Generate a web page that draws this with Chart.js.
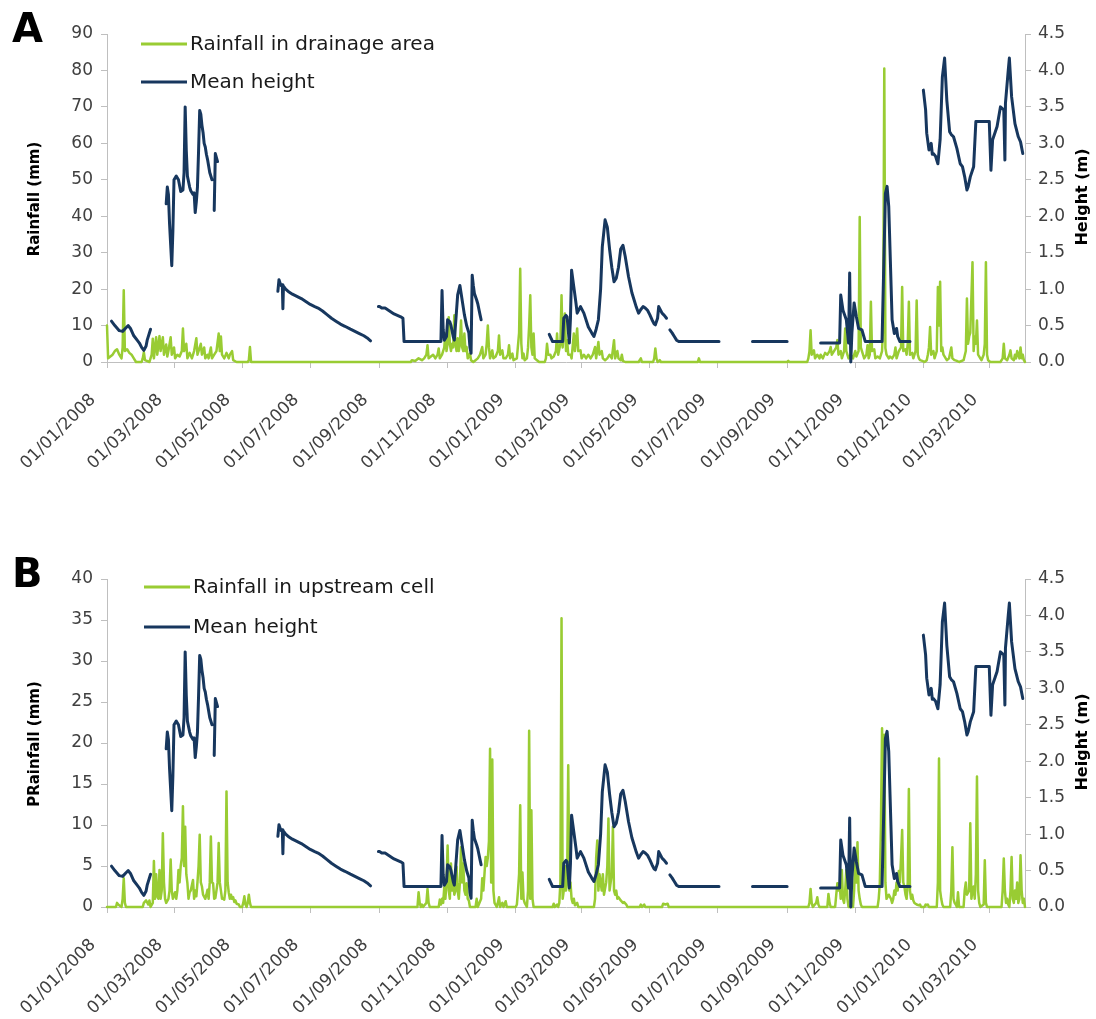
<!DOCTYPE html>
<html>
<head>
<meta charset="utf-8">
<script src="https://cdn.jsdelivr.net/npm/chart.js@4/dist/chart.umd.min.js"></script>
<style>
  html, body { margin: 0; padding: 0; background: #fff; }
  .panel { position: absolute; left: 0; width: 1096px; }
  #panelA { top: 0; height: 545px; }
  #panelB { top: 545px; height: 474px; }
</style>
</head>
<body>
<div class="panel" id="panelA"><canvas id="chartA" width="1096" height="545"></canvas></div>
<div class="panel" id="panelB"><canvas id="chartB" width="1096" height="474"></canvas></div>
<script>
// Days are counted from 01/01/2008 (day 0).
const tickDays = [0, 60, 121, 182, 244, 305, 366, 425, 486, 547, 609, 670, 731, 790];
const tickLabels = ['01/01/2008', '01/03/2008', '01/05/2008', '01/07/2008', '01/09/2008', '01/11/2008',
  '01/01/2009', '01/03/2009', '01/05/2009', '01/07/2009', '01/09/2009', '01/11/2009', '01/01/2010', '01/03/2010'];
const lastDay = 822;

// Daily rainfall averaged over the drainage area (mm): [day, mm]
const rainfallDrainage = [
  [0,10],[1,1],[3,1.5],[5,2],[7,3],[9,3.5],[11,2],[13,1],[14,4],[15,19.7],[16,3],[18,3.5],[20,2.5],[22,2],[24,1],[26,0],
  [31,0],[32,1],[33,2.7],[34,0.5],[38,0],[40,2],[41,6.4],[42,1],[44,6.8],[45,2],[47,7.1],[48,3],[50,6.8],[51,2],[53,4.8],
  [54,1.5],[55,3],[57,6.8],[58,2],[60,4],[61,1],[63,2],[65,1.5],[67,3],[68,9.2],[69,3],[71,5],[72,1],[74,2.5],[76,1],
  [78,3],[80,6.5],[81,2],[82,3],[84,5],[85,2],[87,4],[88,1],[90,2],[91,1],[93,4],[94,1],[96,2],[98,3],[100,7.8],[101,3],
  [102,7],[103,2],[105,1],[107,2.5],[109,1],[110,2],[112,3],[113,0.5],[116,0],[126,0],[127,0.5],[128,4.1],[129,0],
  [272,0],[273,0.5],[276,0.3],[279,1],[282,0.5],[284,1],[286,2],[287,4.6],[288,1],[290,1.5],[292,2],[294,1],[296,2],
  [297,3.7],[298,1],[300,2],[302,4],[303,7.8],[304,3],[305,5],[306,12.3],[307,5],[308,3],[309,5],[310,4],[311,12.8],
  [312,5],[313,3],[314,6.5],[315,3],[316,5],[317,11.4],[318,4],[319,3],[320,7.8],[321,3],[322,4.1],[323,1],[325,2.3],
  [326,0.5],[328,0],[330,0.5],[332,1],[334,2],[336,4.1],[337,1],[339,2],[340,5],[341,10],[342,4],[343,1],[345,3.2],
  [346,1],[348,1.5],[350,3],[351,7.3],[352,2],[354,3.2],[355,1],[357,1],[359,2],[360,4.6],[361,1],[363,2.3],[364,0.5],
  [367,1],[369,8],[370,25.6],[371,5],[372,1],[373,2.3],[374,0.5],[376,1],[377,4],[378,10],[379,18.3],[380,4],[381,2],
  [382,7.8],[383,1],[385,0.5],[387,0],[392,0],[393,1],[394,5],[395,2],[397,2],[398,1],[400,1.5],[402,3],[403,7.8],
  [404,2],[406,5],[407,18.3],[408,4],[410,13.3],[411,3],[412,6],[413,2],[415,2],[416,1],[418,7.8],[419,3],[421,9.2],
  [422,3],[424,3.2],[425,1],[427,2],[429,1],[431,2],[433,1],[435,2],[437,4.1],[438,1],[440,5.5],[441,2],[443,3],[444,1],
  [446,0.5],[448,1],[450,2],[452,1],[454,6],[455,1],[457,3],[458,1],[460,0.5],[461,2],[462,0.3],[464,0],[476,0],
  [477,0.5],[478,1],[479,0],[489,0],[490,1],[491,3.7],[492,1],[493,0],[495,0.5],[496,0],[529,0],[530,1],[531,0],
  [609,0],[610,0.3],[611,0],
  [627,0],[628,1],[629,3],[630,8.7],[631,2],[633,3.2],[634,1],[636,2],[638,1],[639,2],[641,1],[643,2.5],[645,2],[647,3],
  [648,4.1],[649,2],[651,3],[653,4],[654,6],[655,2],[657,3],[658,1],[660,3],[661,9.2],[662,3],[664,1],[666,2],[668,1],
  [670,3],[671,1.5],[673,3],[674,39.8],[675,4],[676,3],[678,1],[680,2],[681,4.6],[682,1],[683,2],[684,16.5],[685,3],
  [687,3.5],[688,1],[690,1.5],[692,1],[694,3],[695,10],[696,80.5],[697,3.8],[698,2],[700,1],[701,1.5],[703,1],[705,2],
  [706,4],[707,1],[709,3],[711,4],[712,20.6],[713,3],[715,3.5],[716,2],[717,5],[718,16.5],[719,2],[721,2.5],[722,1],
  [724,3],[725,16.9],[726,2],[727,1],[728,0.5],[730,0.3],[732,0],[734,0.5],[735,2],[736,4],[737,9.6],[738,2],[740,3],
  [741,1],[743,3],[744,20.6],[745,10],[746,22],[747,3],[748,4],[749,2],[751,1],[752,0.5],[754,1],[756,4],[757,1],
  [759,0.5],[761,0.3],[763,0],[767,0.5],[769,3],[770,17.4],[771,5],[772,7],[773,8],[775,27.4],[776,3],[777,7],[778,5],
  [779,11.4],[780,2],[782,1],[783,0.5],[785,2],[786,5],[787,27.4],[788,2],[789,0.5],[791,0],[800,0],[802,1],[803,5],
  [804,1],[806,0.5],[808,2],[809,3.2],[810,1],[812,0.5],[813,2],[814,1],[815,3],[817,1],[818,4],[819,1],[820,2],
  [821,0.5],[822,0]
];

// Daily rainfall in the upstream cell (mm): [day, mm]
const rainfallUpstream = [
  [0,0],[8,0],[9,0.5],[10,0.3],[13,0],[14,1],[15,3.5],[16,0.5],[17,0],[32,0],[33,0.5],[35,0.8],[37,0.3],[38,0.8],[39,0],
  [41,0.5],[42,5.6],[43,1],[44,4],[45,1.3],[46,1],[47,4.5],[48,1],[49,2],[50,9],[51,3],[52,1],[53,0.5],[55,1],[56,2],
  [57,5.8],[58,2],[59,1],[61,1.8],[62,1],[63,2],[64,4.5],[65,3],[66,5],[67,6],[68,12.3],[69,5],[70,9.8],[71,4],[72,2.9],
  [73,1],[74,1.8],[75,2],[77,3.3],[78,1],[79,2],[80,1.3],[81,3],[82,5],[83,8.8],[84,3],[85,2.5],[86,1.5],[88,1],[89,1.5],
  [90,2.1],[91,1],[92,3],[93,8.6],[94,3],[95,2.9],[96,1],[97,1.1],[98,2],[99,3],[100,7.8],[101,3],[102,2],[103,1],
  [104,1],[105,0.9],[106,2],[107,14.1],[108,3],[109,1.8],[110,1],[111,1.5],[112,1],[113,1.2],[114,0.6],[115,0.8],
  [116,0.4],[118,0.3],[119,0],[121,0],[122,0.5],[123,1.3],[124,0.3],[125,0],[126,0.5],[127,1.5],[128,0.5],[129,0],
  [278,0],[279,1.8],[280,0.5],[281,0],[282,0.3],[283,0],[286,0.5],[287,2.2],[288,0.5],[289,0],[297,0],[298,0.9],
  [299,0.3],[300,1],[301,0.5],[302,2.4],[303,1],[304,3],[305,7.5],[306,2],[307,1],[308,5.3],[309,2],[310,3.3],[311,1.5],
  [312,2],[313,4.9],[314,2],[315,1],[316,3],[317,7.3],[318,3],[319,5.3],[320,2],[321,1.5],[322,2.9],[323,1],[324,0.8],
  [325,0],[330,0],[331,1],[332,0],[335,1],[336,3.5],[337,2],[338,4],[339,6.1],[340,5],[341,6],[342,8],[343,19.3],
  [344,3],[345,18],[346,2],[347,0.5],[349,0],[350,0.5],[351,1.2],[352,0],[354,0.5],[355,0],[357,0.7],[358,0],[366,0],
  [367,0.3],[368,2],[369,4],[370,12.4],[371,1],[372,4.2],[373,1],[374,0.5],[376,0],[377,2],[378,21.5],[379,1],
  [380,11.8],[381,1],[382,0],[399,0],[400,0.4],[401,0],[403,0.3],[404,0],[405,0.5],[406,3],[407,35.2],[408,1],[409,2],
  [410,5],[411,2],[412,3],[413,17.3],[414,2],[415,3],[416,1],[417,0.5],[418,1],[419,0.2],[421,0.5],[422,0],[436,0],
  [437,1],[438,6],[439,8.1],[440,2],[441,4],[442,3],[443,2],[444,4],[445,1.5],[447,3],[448,5],[449,10.8],[450,2],[451,3],
  [452,4],[453,9.8],[454,2],[455,1.5],[456,2],[457,1],[458,1.2],[460,0.8],[462,0.5],[463,0.6],[465,0.3],[466,0],
  [477,0],[478,0.3],[479,0],[481,0.3],[482,0],[497,0],[498,0.4],[500,0.3],[502,0.4],[503,0],
  [628,0],[629,0.5],[630,2.2],[631,0.5],[632,0],[635,0.5],[636,1.2],[637,0.3],[638,0],[645,0],[646,1.6],[647,0.5],
  [648,0],[652,0],[653,1.5],[654,2.9],[655,2],[656,2.9],[657,1],[658,4.5],[659,1],[660,0.5],[661,2],[662,4.5],[663,1],
  [664,0],[668,0],[669,2],[670,6.1],[671,3],[672,7.9],[673,2],[674,1],[675,0.3],[676,0],[690,0],[691,1],[692,2.9],
  [693,10],[694,21.8],[695,8],[696,21],[697,3],[698,1],[700,1.5],[702,1],[703,0.5],[704,1],[705,2],[706,1.5],[707,3],
  [708,2],[709,4.4],[710,3],[711,6],[712,9.4],[713,3],[714,2.5],[715,1.5],[716,1],[717,3],[718,14.4],[719,2],[720,1],
  [721,1.5],[722,0.8],[723,0.5],[725,0.3],[727,0.2],[728,0.3],[729,0],[732,0],[733,0.3],[734,0.2],[735,0.3],[736,0],
  [743,0],[744,3],[745,18.1],[746,2],[747,1],[748,0.3],[749,0],[755,0],[756,2],[757,7.3],[758,1],[759,0.5],[760,0.3],
  [761,0],[762,1.8],[763,0],[767,0],[768,2],[769,3],[770,1.5],[772,2],[773,10.2],[774,1],[775,2],[776,2.5],[777,1],
  [778,4],[779,15.9],[780,2],[781,0.5],[782,0],[785,0.3],[786,5.7],[787,0.5],[788,0],[801,0],[802,2],[803,5.9],[804,2],
  [805,0.5],[806,1],[807,0.3],[808,0],[809,2],[810,6.1],[811,1],[812,0.5],[813,2],[814,1],[815,3],[816,0.5],[817,1],
  [818,6.3],[819,2],[820,0.5],[821,1],[822,0]
];

// Mean water height (m): [day, m]; null marks days without a record
const meanHeight = [
  [4,0.56],[7,0.5],[11,0.43],[14,0.42],[17,0.47],[19,0.5],[21,0.46],[24,0.36],[27,0.3],[29,0.26],[31,0.2],[33,0.16],
  [35,0.22],[36,0.3],[39,0.45],[46,null],
  [53,2.17],[54,2.4],[55,2.3],[56,1.9],[58,1.32],[59,1.8],[60,2.5],[62,2.55],[64,2.5],[66,2.34],[68,2.36],[69,2.6],
  [70,3.5],[71,2.9],[72,2.55],[74,2.4],[75,2.35],[77,2.3],[78,2.32],[79,2.05],[80,2.2],[81,2.4],[82,2.9],[83,3.45],
  [84,3.4],[85,3.25],[86,3.15],[87,3.0],[88,2.95],[89,2.85],[90,2.78],[92,2.6],[94,2.5],[95,null],
  [96,2.08],[97,2.86],[99,2.75],[120,null],
  [153,0.97],[154,1.13],[155,1.08],[156,1.05],[157,1.06],[157.5,0.73],[158,1.04],[160,1.0],[163,0.96],[166,0.93],
  [170,0.9],[174,0.87],[178,0.83],[182,0.79],[186,0.76],[189,0.74],[193,0.7],[197,0.65],[201,0.6],[205,0.56],[209,0.52],
  [213,0.49],[218,0.45],[222,0.42],[226,0.39],[230,0.36],[233,0.33],[236,0.29],[240,null],
  [243,0.76],[244,0.76],[246,0.74],[249,0.74],[252,0.71],[254,0.69],[257,0.66],[260,0.64],[263,0.62],[265,0.6],
  [266,0.28],[299,0.28],[300,0.98],[301,0.45],[302,0.3],[304,0.35],[305,0.58],[307,0.55],[308,0.5],[310,0.35],[311,0.3],
  [312,0.5],[314,0.92],[316,1.05],[317,0.95],[320,0.65],[322,0.5],[324,0.4],[325,0.2],[326,0.12],[327,1.19],[328,1.05],
  [329,0.94],[331,0.85],[332,0.8],[334,0.65],[335,0.58],[360,null],
  [396,0.38],[399,0.28],[408,0.28],[409,0.6],[411,0.64],[412,0.62],[414,0.26],[415,0.6],[416,1.26],[418,1.03],[420,0.8],
  [421,0.67],[424,0.76],[427,0.67],[431,0.48],[434,0.4],[436,0.35],[438,0.45],[440,0.58],[442,1.0],[443.5,1.58],
  [446,1.95],[448,1.85],[450,1.55],[452,1.3],[454,1.1],[456,1.15],[458,1.3],[460,1.55],[462,1.6],[464,1.45],[467,1.17],
  [470,0.95],[472,0.85],[474,0.75],[476,0.67],[478,0.72],[480,0.76],[482,0.74],[484,0.71],[486,0.65],[488,0.58],
  [490,0.52],[491,0.51],[493,0.6],[494,0.76],[496,0.7],[497,0.67],[499,0.64],[501,0.6],[502,null],
  [504,0.44],[506,0.4],[508,0.35],[510,0.3],[512,0.28],[548,0.28],[560,null],
  [578,0.28],[609,0.28],[620,null],
  [639,0.26],[656,0.26],[657,0.92],[659,0.71],[662,0.58],[664,0.26],[665,1.22],[666,0.0],[667,0.4],[669,0.81],[671,0.62],
  [673,0.46],[676,0.44],[679,0.28],[694,0.28],[697,2.31],[698.5,2.41],[700,2.13],[703,0.58],[705,0.39],[707,0.46],
  [708,0.35],[710,0.28],[719,0.28],[725,null],
  [731,3.73],[733,3.46],[734,3.14],[736,2.91],[737,2.95],[738,3.0],[739,2.85],[740,2.86],[742,2.82],[744,2.72],
  [746,3.05],[748,3.91],[750,4.17],[752,3.59],[754.5,3.16],[756,3.12],[758,3.09],[761,2.93],[764,2.72],[766,2.68],
  [768,2.54],[770,2.36],[771,2.4],[773,2.54],[776,2.68],[778,3.3],[790,3.3],[791.5,2.63],[793,3.05],[797,3.23],
  [800,3.5],[803,3.46],[804,2.77],[804.5,3.55],[807,4.0],[808,4.17],[810,3.64],[813,3.27],[816,3.09],[818,3.02],
  [820,2.86]
];

const GREEN = '#99CC33';
const NAVY = '#17375E';
const AXIS_GREY = '#BFBFBF';
const TICK_TEXT = '#404040';
const FONT = '"DejaVu Sans", "Open Sans", sans-serif';

const toPoints = rows => rows.map(([d, v]) => ({ x: d, y: v }));

// Panel letter, legend and axis titles drawn on top of the plot
const panelDecor = {
  id: 'panelDecor',
  afterDraw(chart, args, o) {
    const ctx = chart.ctx;
    ctx.save();
    ctx.fillStyle = '#000';
    ctx.font = 'bold 40px ' + FONT;
    ctx.textAlign = 'left';
    ctx.textBaseline = 'alphabetic';
    ctx.fillText(o.letter, o.letterX, o.letterY);

    ctx.font = '20px ' + FONT;
    ctx.textBaseline = 'middle';
    o.legendRows.forEach(row => {
      const ds = chart.data.datasets[row.index];
      ctx.strokeStyle = ds.borderColor;
      ctx.lineWidth = 3;
      ctx.beginPath();
      ctx.moveTo(o.legendX, row.y);
      ctx.lineTo(o.legendX + 46, row.y);
      ctx.stroke();
      ctx.fillStyle = '#1a1a1a';
      ctx.fillText(ds.label, o.legendX + 49, row.y + 1);
    });

    const area = chart.chartArea;
    const midY = (area.top + area.bottom) / 2;
    ctx.fillStyle = '#000';
    ctx.textAlign = 'center';
    ctx.textBaseline = 'middle';
    ctx.font = 'bold 15px ' + FONT;
    ctx.save();
    ctx.translate(35, midY + 1);
    ctx.rotate(-Math.PI / 2);
    ctx.fillText(o.leftTitle, 0, 0);
    ctx.restore();
    ctx.font = 'bold 16px ' + FONT;
    ctx.save();
    ctx.translate(1083, midY - 1);
    ctx.rotate(-Math.PI / 2);
    ctx.fillText(o.rightTitle, 0, 0);
    ctx.restore();
    ctx.restore();
  }
};

function buildChart(canvasId, rainRows, rainLabel, rainMax, rainStep, leftTitle, letter, legendX, legendYs) {
  const canvas = document.getElementById(canvasId);
  const H = canvas.height;
  return new Chart(canvas, {
    type: 'line',
    data: {
      datasets: [
        {
          label: 'Mean height',
          data: toPoints(meanHeight),
          yAxisID: 'yHeight',
          borderColor: NAVY,
          borderWidth: 3,
          spanGaps: false,
          clip: 4
        },
        {
          label: rainLabel,
          data: toPoints(rainRows),
          yAxisID: 'yRain',
          borderColor: GREEN,
          borderWidth: 2.5,
          clip: 4
        }
      ]
    },
    options: {
      responsive: false,
      animation: false,
      events: [],
      elements: {
        point: { radius: 0 },
        line: { tension: 0, borderJoinStyle: 'round', borderCapStyle: 'round', fill: false }
      },
      layout: { padding: { top: 34, left: 0, right: 0, bottom: 0 } },
      plugins: {
        legend: { display: false },
        tooltip: { enabled: false },
        panelDecor: {
          letter: letter, letterX: 12, letterY: 42,
          legendX: legendX,
          legendRows: [{ index: 1, y: legendYs[0] }, { index: 0, y: legendYs[1] }],
          leftTitle: leftTitle, rightTitle: 'Height (m)'
        }
      },
      scales: {
        x: {
          type: 'linear',
          min: 0,
          max: lastDay,
          afterBuildTicks: s => { s.ticks = tickDays.map(v => ({ value: v })); },
          afterFit: s => { s.height = H - 362; },
          grid: { drawOnChartArea: false, drawTicks: true, tickLength: 6, color: AXIS_GREY },
          border: { color: AXIS_GREY, width: 1 },
          ticks: {
            autoSkip: false,
            minRotation: 45,
            maxRotation: 45,
            padding: 22,
            labelOffset: -14,
            color: TICK_TEXT,
            font: { family: FONT, size: 17 },
            callback: (v, i) => tickLabels[i]
          }
        },
        yRain: {
          position: 'left',
          min: 0,
          max: rainMax,
          afterFit: s => { s.width = 107; },
          grid: { drawOnChartArea: false, drawTicks: true, tickLength: 6, color: AXIS_GREY },
          border: { color: AXIS_GREY, width: 1 },
          ticks: { stepSize: rainStep, padding: 8, color: TICK_TEXT, font: { family: FONT, size: 17 } }
        },
        yHeight: {
          position: 'right',
          min: 0,
          max: 4.5,
          afterFit: s => { s.width = 71; },
          grid: { drawOnChartArea: false, drawTicks: true, tickLength: 6, color: AXIS_GREY },
          border: { color: AXIS_GREY, width: 1 },
          ticks: {
            stepSize: 0.5, padding: 7, color: TICK_TEXT, font: { family: FONT, size: 17 },
            callback: v => Number(v).toFixed(1)
          }
        }
      }
    },
    plugins: [panelDecor]
  });
}

buildChart('chartA', rainfallDrainage, 'Rainfall in drainage area', 90, 10, 'Rainfall (mm)', 'A', 141, [44, 82]);
buildChart('chartB', rainfallUpstream, 'Rainfall in upstream cell', 40, 5, 'PRainfall (mm)', 'B', 144, [42, 82]);
</script>
</body>
</html>
